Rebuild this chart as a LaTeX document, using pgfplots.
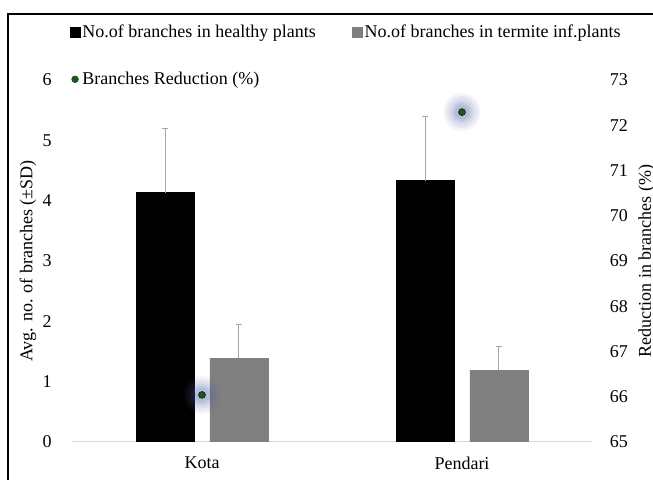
\documentclass[border=0pt]{standalone}
\usepackage{fontspec}
\setmainfont{Liberation Serif}
\usepackage{pgfplots}
\pgfplotsset{compat=1.18}
\definecolor{bargray}{RGB}{128,128,128}
\definecolor{errgray}{RGB}{165,165,165}
\definecolor{axgray}{RGB}{217,217,217}
\definecolor{dotgreen}{RGB}{30,85,35}
\definecolor{halo}{RGB}{75,95,165}
\begin{document}
\fontsize{10.8pt}{13pt}\selectfont
\begin{tikzpicture}
\useasboundingbox (0pt,0pt) rectangle (391.8pt,288pt);
\draw[line width=1.3pt] (4.8pt,0pt) -- (4.8pt,279.6pt) -- (396pt,279.6pt);
\pgfplotsset{every axis/.append style={
  anchor=south west, scale only axis,
  width=312pt, height=217.2pt,
  xmin=-0.5, xmax=1.5,
  font=\fontsize{10.8pt}{13pt}\selectfont,
  /pgf/number format/assume math mode=true,
  major tick length=0pt, minor tick num=0,
}}
\begin{axis}[
  at={(43.2pt,22.8pt)},
  ymin=0, ymax=6, ytick={0,1,2,3,4,5,6},
  xtick={0,1}, xticklabels={Kota,Pendari},
  axis x line*=bottom, axis y line*=left,
  y axis line style={draw=none},
  x axis line style={draw=axgray, line width=0.6pt, -},
  yticklabel style={xshift=-8.4pt},
  xticklabel style={yshift=-5pt},
  ylabel={Avg. no. of branches (\textpm SD)},
  every axis y label/.style={at={(axis description cs:-0.0846,0.5)}, rotate=90, anchor=center},
  ybar, bar width=0.223,
]
\addplot[fill=black, draw=black, bar shift=-0.142,
  error bars/.cd, y dir=plus, y explicit,
  error bar style={errgray, line width=0.6pt},
  error mark options={errgray, mark size=1.8pt, rotate=90, line width=0.6pt}]
  coordinates {(0,4.13) +- (0,1.06) (1,4.33) +- (0,1.07)};
\addplot[fill=bargray, draw=bargray, bar shift=0.142,
  error bars/.cd, y dir=plus, y explicit,
  error bar style={errgray, line width=0.6pt},
  error mark options={errgray, mark size=1.8pt, rotate=90, line width=0.6pt}]
  coordinates {(0,1.39) +- (0,0.55) (1,1.19) +- (0,0.40)};
\end{axis}
\begin{axis}[
  at={(43.2pt,22.8pt)},
  ymin=65, ymax=73, ytick={65,66,67,68,69,70,71,72,73},
  axis x line=none, axis y line*=right,
  y axis line style={draw=none},
  yticklabel style={xshift=7pt},
  ylabel={Reduction in branches (\%)},
  every axis y label/.style={at={(axis description cs:1.105,0.5)}, rotate=90, anchor=center},
  legend columns=2,
  legend style={at={(axis description cs:-0.005,1.163)}, anchor=north west,
    draw=none, fill=none, row sep=15pt, inner sep=0pt,
    /tikz/every even column/.append style={column sep=20.5pt},
    nodes={inner xsep=1.2pt}},
  legend cell align=left,
]
\addlegendimage{legend image code/.code={\fill[black] (0pt,-3pt) rectangle (6pt,3pt);}}
\addlegendentry{No.of branches in healthy plants}
\addlegendimage{legend image code/.code={\fill[bargray] (0pt,-3pt) rectangle (6pt,3pt);}}
\addlegendentry{No.of branches in termite inf.plants}
\addlegendimage{legend image code/.code={\fill[dotgreen] (3pt,0pt) circle (2pt);}}
\addlegendentry{Branches Reduction (\%)}
\addplot[forget plot, only marks, mark=*, color=halo, opacity=0.06, mark size=11pt] coordinates {(0,66.04) (1,72.29)};
\addplot[forget plot, only marks, mark=*, color=halo, opacity=0.07, mark size=9.5pt] coordinates {(0,66.04) (1,72.29)};
\addplot[forget plot, only marks, mark=*, color=halo, opacity=0.08, mark size=8pt] coordinates {(0,66.04) (1,72.29)};
\addplot[forget plot, only marks, mark=*, color=halo, opacity=0.09, mark size=6.5pt] coordinates {(0,66.04) (1,72.29)};
\addplot[forget plot, only marks, mark=*, color=halo, opacity=0.10, mark size=5.2pt] coordinates {(0,66.04) (1,72.29)};
\addplot[forget plot, only marks, mark=*, color=halo, opacity=0.11, mark size=4pt] coordinates {(0,66.04) (1,72.29)};
\addplot[forget plot, only marks, mark=*, mark size=2.1pt, mark options={draw=black!80!dotgreen, fill=dotgreen, line width=0.3pt}] coordinates {(0,66.04) (1,72.29)};
\end{axis}
\end{tikzpicture}
\end{document}
